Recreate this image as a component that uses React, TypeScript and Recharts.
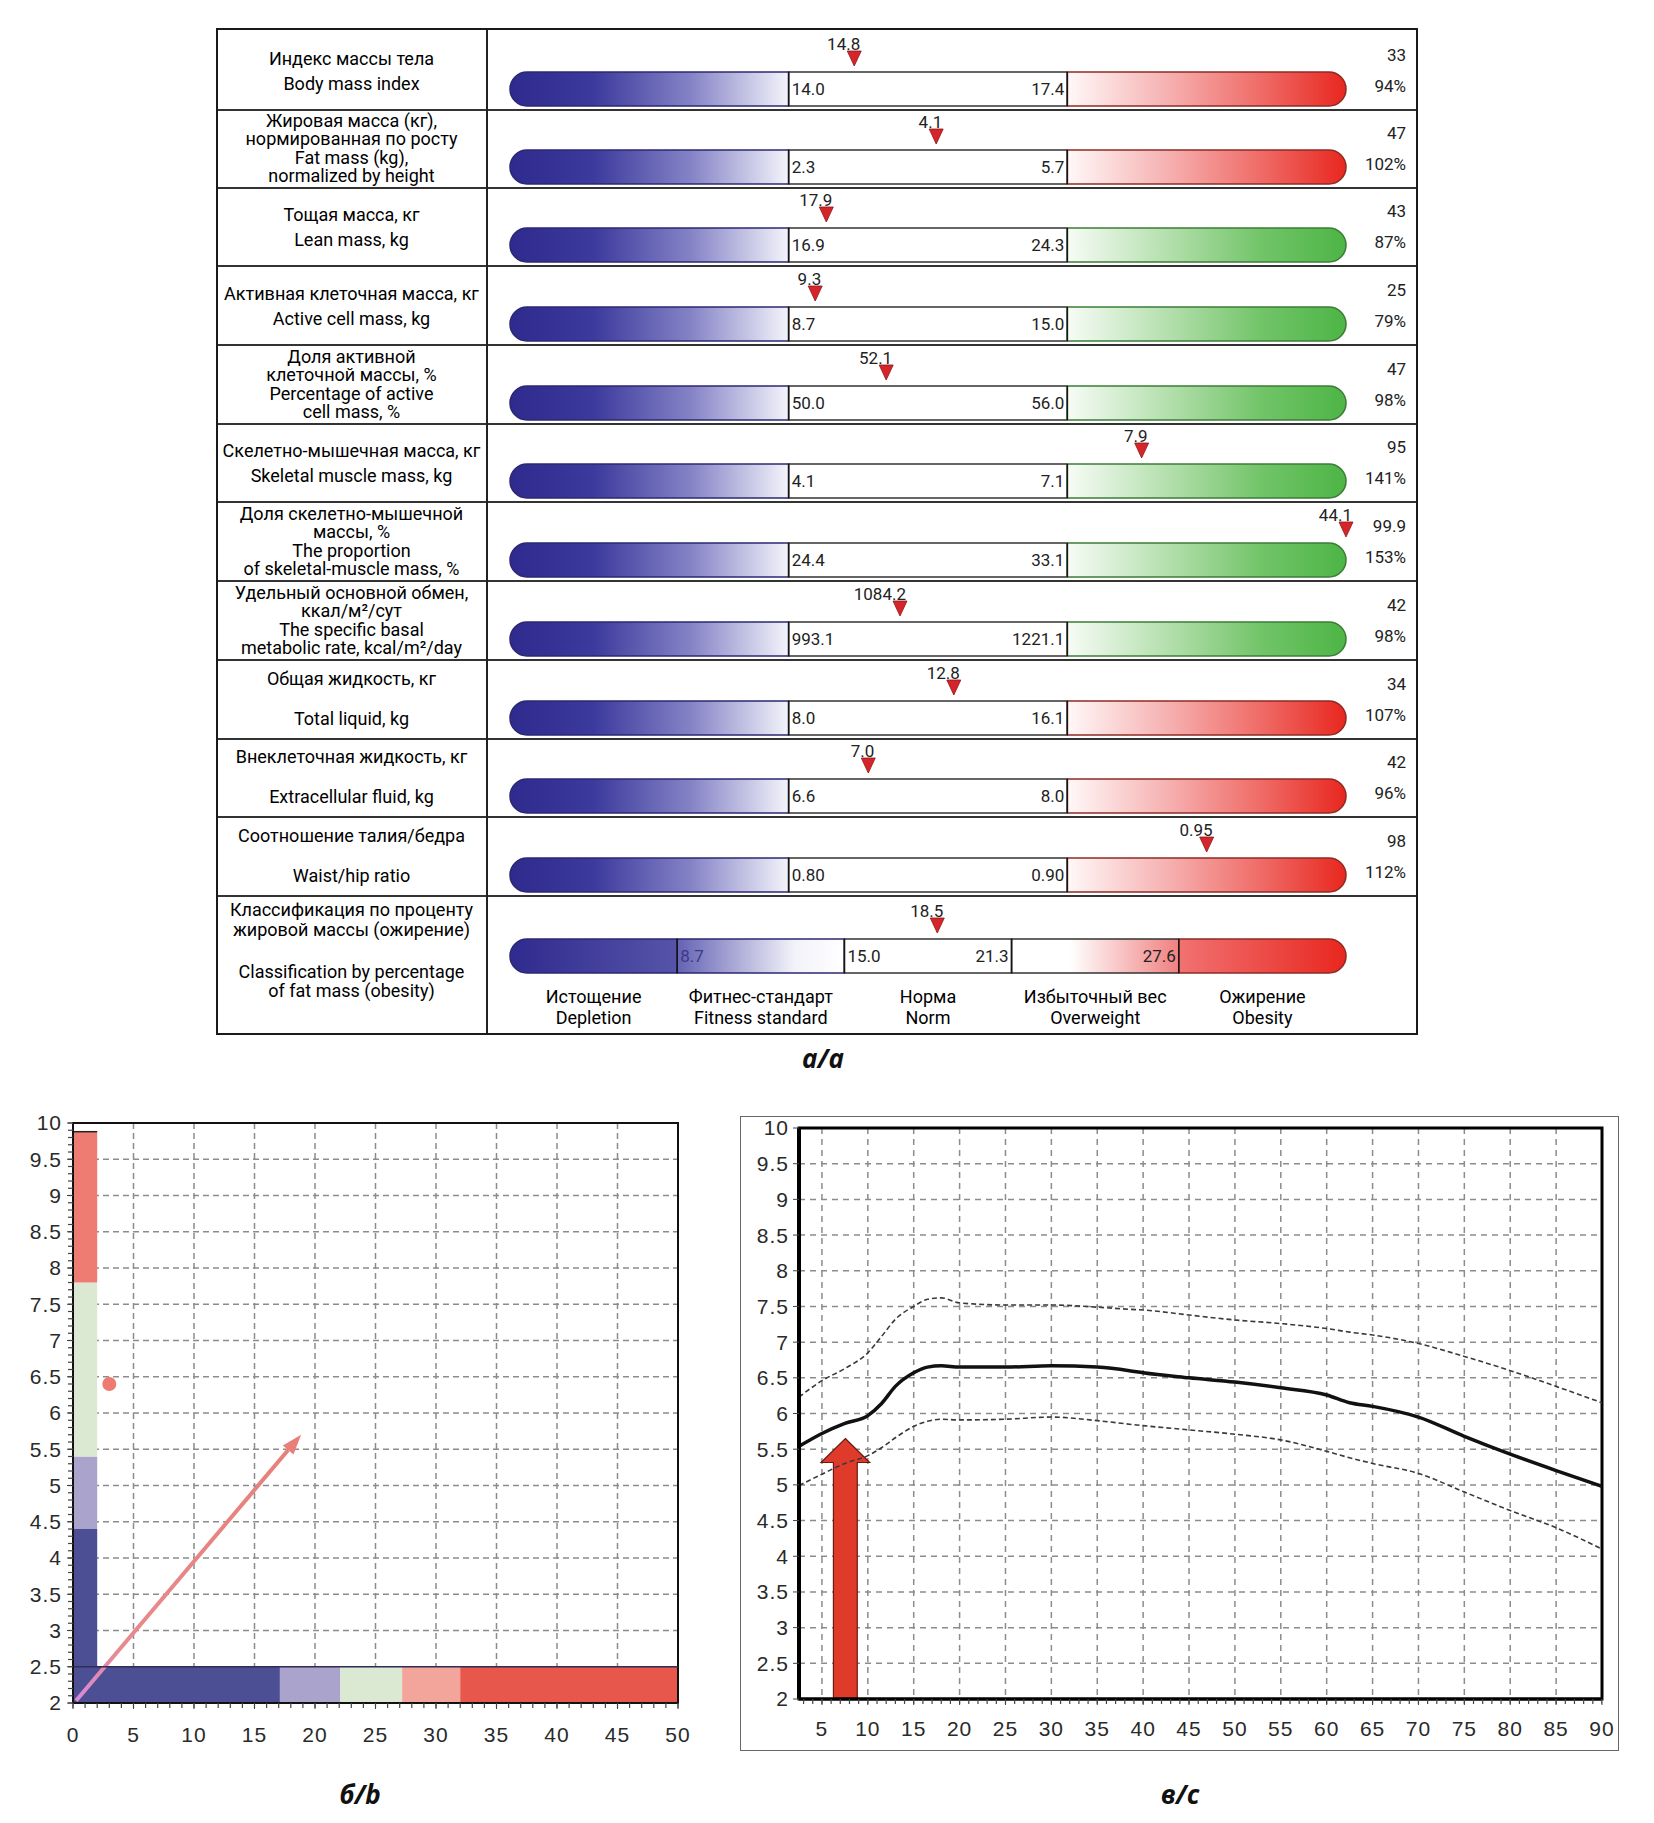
import React from 'react';
import {
  ComposedChart, Bar, Line, Scatter, XAxis, YAxis, CartesianGrid,
  ReferenceLine, ReferenceDot, ReferenceArea, Rectangle,
} from 'recharts';

// ---------- panel a: bioimpedance indicators ----------
const indicatorLines: string[][] = [
  ['Индекс массы тела', 'Body mass index'],
  ['Жировая масса (кг),', 'нормированная по росту', 'Fat mass (kg),', 'normalized by height'],
  ['Тощая масса, кг', 'Lean mass, kg'],
  ['Активная клеточная масса, кг', 'Active cell mass, kg'],
  ['Доля активной', 'клеточной массы, %', 'Percentage of active', 'cell mass, %'],
  ['Скелетно-мышечная масса, кг', 'Skeletal muscle mass, kg'],
  ['Доля скелетно-мышечной', 'массы, %', 'The proportion', 'of skeletal-muscle mass, %'],
  ['Удельный основной обмен,', 'ккал/м²/сут', 'The specific basal', 'metabolic rate, kcal/m²/day'],
  ['Общая жидкость, кг', 'Total liquid, kg'],
  ['Внеклеточная жидкость, кг', 'Extracellular fluid, kg'],
  ['Соотношение талия/бедра', 'Waist/hip ratio'],
];
const measured = [14.8, 4.1, 17.9, 9.3, 52.1, 7.9, 44.1, 1084.2, 12.8, 7.0, 0.95];
const normLow = [14.0, 2.3, 16.9, 8.7, 50.0, 4.1, 24.4, 993.1, 8.0, 6.6, 0.80];
const normHigh = [17.4, 5.7, 24.3, 15.0, 56.0, 7.1, 33.1, 1221.1, 16.1, 8.0, 0.90];
const valueDigits = [1, 1, 1, 1, 1, 1, 1, 1, 1, 1, 2];
const indexScore = ['33', '47', '43', '25', '47', '95', '99.9', '42', '34', '42', '98'];
const normPercent = ['94%', '102%', '87%', '79%', '98%', '141%', '153%', '98%', '107%', '96%', '112%'];
const upperZone = ['red', 'red', 'green', 'green', 'green', 'green', 'green', 'green', 'red', 'red', 'red'];

const fatClassLines = ['Классификация по проценту', 'жировой массы (ожирение)', 'Classification by percentage', 'of fat mass (obesity)'];
const fatPercent = 18.5;
const fatThresholds = [8.7, 15.0, 21.3, 27.6];
const fatZonesRu = ['Истощение', 'Фитнес-стандарт', 'Норма', 'Избыточный вес', 'Ожирение'];
const fatZonesEn = ['Depletion', 'Fitness standard', 'Norm', 'Overweight', 'Obesity'];

// ---------- panel b: composition map ----------
const mapYEdges = [2.5, 4.4, 5.4, 7.8, 9.88];
const mapXEdges = [0, 17.1, 22.1, 27.2, 32.0, 50];
const subjectPoint = [{ x: 3.0, y: 6.4 }];
const arrowStart = { x: 0.25, y: 2.03 };
const arrowEnd = { x: 18.85, y: 5.7 };
const bXTicks = [0, 5, 10, 15, 20, 25, 30, 35, 40, 45, 50];
const yTicks = [2, 2.5, 3, 3.5, 4, 4.5, 5, 5.5, 6, 6.5, 7, 7.5, 8, 8.5, 9, 9.5, 10];

// ---------- panel c: age norm curves ----------
const ages = [2.5, 5, 7.5, 10, 11.5, 13, 15, 16.5, 18, 20, 25, 30, 35, 38.5, 40, 45, 50, 55, 60, 62.5, 65, 70, 75, 80, 85, 90];
const normMedian = [5.54, 5.72, 5.86, 5.97, 6.14, 6.38, 6.57, 6.65, 6.67, 6.65, 6.65, 6.67, 6.65, 6.6, 6.57, 6.5, 6.44, 6.36, 6.26, 6.15, 6.1, 5.95, 5.68, 5.43, 5.2, 4.98];
const normUpper = [6.23, 6.46, 6.63, 6.85, 7.08, 7.32, 7.5, 7.6, 7.62, 7.55, 7.52, 7.52, 7.49, 7.46, 7.45, 7.38, 7.31, 7.26, 7.19, 7.14, 7.1, 6.98, 6.8, 6.6, 6.38, 6.15];
const normLower = [4.99, 5.15, 5.3, 5.41, 5.52, 5.66, 5.82, 5.89, 5.92, 5.91, 5.92, 5.95, 5.9, 5.85, 5.83, 5.77, 5.71, 5.63, 5.47, 5.38, 5.3, 5.16, 4.9, 4.64, 4.4, 4.1];
const subjectAge = 7.55;
const subjectValue = 5.65;
const cXTicks = [5, 10, 15, 20, 25, 30, 35, 40, 45, 50, 55, 60, 65, 70, 75, 80, 85, 90];

const growthTable = ages.map((age, i) => ({ age, median: normMedian[i], upper: normUpper[i], lower: normLower[i] }));

// ---------- layout ----------
const ROW_EDGES = [28, 110, 188, 266, 345, 424, 502, 581, 660, 739, 817, 896, 1035];
const TABLE_LEFT = 216;
const TABLE_RIGHT = 1418;
const LABEL_RIGHT = 487;
const BAR_LEFT = 510;
const BAR_RIGHT = 1346;
const BAR_H = 34;
const LABEL_OFFSETS: Record<number, number[]> = { 2: [-51, -26], 4: [-67, -49, -30, -12] };
const SPLIT_ROWS = [8, 9, 10];
const FAT_LABEL_OFFSETS = [-125, -105, -63, -44];

const TEXT_FONT = 'Roboto, "Noto Sans", sans-serif';
const NUM_FONT = 'Roboto, "Liberation Sans", sans-serif';
const AXIS_FONT = '"Liberation Sans", Arial, sans-serif';
const STROKE = { blue: '#2b2870', white: '#333333', red: '#8d2b25', green: '#3d7c37' };

// positions of the small unlabelled tick marks along the axes
const minorTicks = (from: number, to: number, step: number) => {
  const out: number[] = [];
  for (let v = from; v <= to + 1e-9; v += step) out.push(Math.round(v * 100) / 100);
  return out;
};

const zonePosition = (v: number, t0: number, t1: number, zones: number) =>
  Math.min(1, Math.max(0, (1 + (v - t0) / (t1 - t0)) / zones));

type Seg = { fill: string; stroke: string; left?: string; right?: string; textColor?: string };

const segShape = (seg: Seg) => (p: any) => {
  const { x, y, width, height } = p;
  const mid = y + height / 2;
  const txt = { fontSize: 17, fontFamily: NUM_FONT, fill: seg.textColor || '#222' };
  return (
    <g>
      <Rectangle x={x} y={y} width={width} height={height} radius={p.radius} fill={seg.fill} stroke={seg.stroke} strokeWidth={1.5} />
      {seg.left && <text x={x + 3} y={mid} dy="0.38em" {...txt}>{seg.left}</text>}
      {seg.right && <text x={x + width - 3} y={mid} dy="0.38em" textAnchor="end" {...txt}>{seg.right}</text>}
    </g>
  );
};

const markerShape = (label: string) => (p: any) => {
  const { cx, cy } = p;
  const tip = cy - BAR_H / 2 - 6;
  return (
    <g>
      <text x={cx + 6} y={tip - 16} textAnchor="end" fontSize={17} fontFamily={NUM_FONT} fill="#222">{label}</text>
      <polygon points={`${cx - 7},${tip - 15} ${cx + 7},${tip - 15} ${cx},${tip}`} fill="#d6252a" stroke="#8e1616" strokeWidth={0.8} />
    </g>
  );
};

const legendTick = (p: any) => {
  const k = Math.round(p.payload.value * 5 - 0.5);
  const st = { fontSize: 18, fontFamily: TEXT_FONT, fill: '#000', textAnchor: 'middle' as const };
  return (
    <g>
      <text x={p.x} y={p.y + 30} {...st}>{fatZonesRu[k]}</text>
      <text x={p.x} y={p.y + 51} {...st}>{fatZonesEn[k]}</text>
    </g>
  );
};

function ZoneBar({ top, height, segs, pos, valueText, legend }: {
  top: number; height: number; segs: Seg[]; pos: number; valueText: string; legend?: boolean;
}) {
  const n = segs.length;
  const row: Record<string, number | string> = { name: 'v' };
  segs.forEach((_, k) => { row[`s${k}`] = 1 / n; });
  const barTop = legend ? 43 : height - BAR_H - 4;
  const bottom = height - barTop - BAR_H;
  return (
    <div style={{ position: 'absolute', left: LABEL_RIGHT, top }}>
      <ComposedChart
        width={TABLE_RIGHT - LABEL_RIGHT}
        height={height}
        layout="vertical"
        data={[row]}
        barCategoryGap={0}
        barGap={0}
        margin={{ top: barTop, bottom: legend ? 2 : bottom, left: BAR_LEFT - LABEL_RIGHT, right: TABLE_RIGHT - BAR_RIGHT }}
      >
        <XAxis
          type="number"
          domain={[0, 1]}
          hide={!legend}
          ticks={[0.1, 0.3, 0.5, 0.7, 0.9]}
          interval={0}
          axisLine={false}
          tickLine={false}
          tickSize={0}
          tickMargin={0}
          height={legend ? bottom - 2 : 0}
          tick={legendTick}
        />
        <YAxis type="category" dataKey="name" hide />
        {segs.map((seg, k) => (
          <Bar
            key={k}
            dataKey={`s${k}`}
            stackId="z"
            fill={seg.fill}
            radius={k === 0 ? [17, 0, 0, 17] : k === n - 1 ? [0, 17, 17, 0] : 0}
            shape={segShape(seg)}
            isAnimationActive={false}
          />
        ))}
        {segs.slice(1).map((_, k) => (
          <ReferenceLine key={`d${k}`} x={(k + 1) / n} stroke="#151515" strokeWidth={1.5} />
        ))}
        <ReferenceDot x={pos} y="v" r={0} ifOverflow="visible" shape={markerShape(valueText)} />
      </ComposedChart>
    </div>
  );
}

function LabelLine({ y, text }: { y: number; text: string }) {
  return (
    <div style={{
      position: 'absolute', left: TABLE_LEFT, width: LABEL_RIGHT - TABLE_LEFT, top: y - 11, height: 22,
      lineHeight: '22px', textAlign: 'center', whiteSpace: 'nowrap', fontSize: 18, fontFamily: TEXT_FONT, color: '#000',
    }}>{text}</div>
  );
}

function IndicatorTable() {
  const tableH = ROW_EDGES[ROW_EDGES.length - 1] - ROW_EDGES[0];
  const last = ROW_EDGES.length - 2;
  const fatSegs: Seg[] = [
    { fill: 'url(#gFat1)', stroke: STROKE.blue },
    { fill: 'url(#gFat2)', stroke: STROKE.blue, left: fatThresholds[0].toFixed(1), textColor: '#3b3a8a' },
    { fill: '#ffffff', stroke: STROKE.white, left: fatThresholds[1].toFixed(1), right: fatThresholds[2].toFixed(1) },
    { fill: 'url(#gFat4)', stroke: STROKE.white, right: fatThresholds[3].toFixed(1) },
    { fill: 'url(#gFat5)', stroke: STROKE.red },
  ];
  return (
    <>
      {measured.map((v, i) => {
        const top = ROW_EDGES[i];
        const h = ROW_EDGES[i + 1] - top;
        const d = valueDigits[i];
        const segs: Seg[] = [
          { fill: 'url(#gBlue)', stroke: STROKE.blue },
          { fill: '#ffffff', stroke: STROKE.white, left: normLow[i].toFixed(d), right: normHigh[i].toFixed(d) },
          upperZone[i] === 'red' ? { fill: 'url(#gRed)', stroke: STROKE.red } : { fill: 'url(#gGreen)', stroke: STROKE.green },
        ];
        return (
          <ZoneBar key={i} top={top} height={h} segs={segs} pos={zonePosition(v, normLow[i], normHigh[i], 3)} valueText={v.toFixed(d)} />
        );
      })}
      <ZoneBar
        top={ROW_EDGES[last]}
        height={ROW_EDGES[last + 1] - ROW_EDGES[last]}
        segs={fatSegs}
        pos={zonePosition(fatPercent, fatThresholds[0], fatThresholds[1], 5)}
        valueText={fatPercent.toFixed(1)}
        legend
      />
      {indicatorLines.map((lines, i) => {
        const bottom = ROW_EDGES[i + 1];
        const offs = SPLIT_ROWS.includes(i) ? [-60, -20] : LABEL_OFFSETS[lines.length];
        return lines.map((t, j) => <LabelLine key={`${i}-${j}`} y={bottom + offs[j]} text={t} />);
      })}
      {fatClassLines.map((t, j) => <LabelLine key={`f${j}`} y={ROW_EDGES[last + 1] + FAT_LABEL_OFFSETS[j]} text={t} />)}
      {indexScore.map((s, i) => (
        <React.Fragment key={`s${i}`}>
          {[s, normPercent[i]].map((t, j) => (
            <div key={j} style={{
              position: 'absolute', left: 1300, width: 106, top: ROW_EDGES[i + 1] - (j === 0 ? 55 : 24) - 10, height: 20,
              lineHeight: '20px', textAlign: 'right', fontSize: 17, fontFamily: NUM_FONT, color: '#222',
            }}>{t}</div>
          ))}
        </React.Fragment>
      ))}
      {ROW_EDGES.slice(1, -1).map((y) => (
        <div key={`h${y}`} style={{ position: 'absolute', left: TABLE_LEFT, width: TABLE_RIGHT - TABLE_LEFT, top: y - 1, height: 2, background: '#333' }} />
      ))}
      <div style={{ position: 'absolute', left: LABEL_RIGHT - 1, top: ROW_EDGES[0], width: 2, height: tableH, background: '#222' }} />
      <div style={{
        position: 'absolute', left: TABLE_LEFT, top: ROW_EDGES[0], width: TABLE_RIGHT - TABLE_LEFT, height: tableH,
        border: '2.5px solid #1a1a1a', boxSizing: 'border-box',
      }} />
    </>
  );
}

function GradientDefs() {
  const grads: Record<string, [number, string][]> = {
    gBlue: [[0, '#2f2a8e'], [0.3, '#3c3a9c'], [0.65, '#8583c6'], [1, '#f4f4fb']],
    gRed: [[0, '#fff8f8'], [0.35, '#f6b3b3'], [0.7, '#ef6a66'], [1, '#e8271f']],
    gGreen: [[0, '#f7fcf6'], [0.35, '#b6e0af'], [0.7, '#71c468'], [1, '#4db545']],
    gFat1: [[0, '#2f2a8e'], [1, '#5654a9']],
    gFat2: [[0, '#6462b3'], [0.7, '#f2f2fa'], [1, '#ffffff']],
    gFat4: [[0, '#ffffff'], [0.35, '#ffffff'], [1, '#f08080']],
    gFat5: [[0, '#f17272'], [1, '#e8271f']],
  };
  return (
    <svg width={0} height={0} style={{ position: 'absolute' }}>
      <defs>
        {Object.entries(grads).map(([id, stops]) => (
          <linearGradient key={id} id={id} x1="0" y1="0" x2="1" y2="0">
            {stops.map(([o, c]) => <stop key={o} offset={o} stopColor={c} />)}
          </linearGradient>
        ))}
      </defs>
    </svg>
  );
}

// ---------- shared axis bits ----------
const AXIS_TICK = { fontSize: 21, fill: '#2a2a2a', fontFamily: AXIS_FONT, letterSpacing: 1 };
const tickDown = (p: any) => <line x1={p.cx} x2={p.cx} y1={p.cy} y2={p.cy + 5} stroke="#444" strokeWidth={1.2} />;
const tickLeft = (p: any) => <line x1={p.cx - 5} x2={p.cx} y1={p.cy} y2={p.cy} stroke="#444" strokeWidth={1.2} />;

// ---------- panel b ----------
const MAP_Y_COLORS = ['#4d4f94', '#aaa3cc', '#dbe9d3', '#ee7c72'];
const MAP_X_COLORS = ['#4d4f94', '#aaa3cc', '#dbe9d3', '#f3a59c', '#e8574b'];
const bMinorX = minorTicks(0, 50, 1).map((x) => ({ x, y: 2 }));
const bMinorY = minorTicks(2, 10, 0.1).map((y) => ({ x: 0, y }));

const diagonalArrow = (p: any) => {
  const x1 = p.x;
  const y1 = p.y + p.height;
  const x2 = p.x + p.width;
  const y2 = p.y;
  const ang = Math.atan2(y2 - y1, x2 - x1);
  const L = 20;
  const W = 7;
  const bx = x2 - L * Math.cos(ang);
  const by = y2 - L * Math.sin(ang);
  const nx = -Math.sin(ang);
  const ny = Math.cos(ang);
  return (
    <g>
      <defs>
        <linearGradient id="arrowB" gradientUnits="userSpaceOnUse" x1={x1} y1={y1} x2={x2} y2={y2}>
          <stop offset="0" stopColor="#d98ad6" />
          <stop offset="0.2" stopColor="#e78a8e" />
          <stop offset="1" stopColor="#e87f78" />
        </linearGradient>
      </defs>
      <line x1={x1} y1={y1} x2={bx} y2={by} stroke="url(#arrowB)" strokeWidth={4} />
      <polygon points={`${x2},${y2} ${bx + nx * W},${by + ny * W} ${bx - nx * W},${by - ny * W}`} fill="#e87f78" />
    </g>
  );
};

function CompositionMap() {
  return (
    <div style={{ position: 'absolute', left: 0, top: 1100 }}>
      <ComposedChart width={700} height={680} margin={{ top: 23, right: 22, left: 0, bottom: 37 }}>
        <CartesianGrid stroke="#8c8c8c" strokeDasharray="6 4" strokeWidth={1.5} />
        <XAxis type="number" dataKey="x" domain={[0, 50]} ticks={bXTicks} interval={0} height={40} tickSize={6}
          tickMargin={18} axisLine={{ stroke: '#111', strokeWidth: 2 }} tickLine={{ stroke: '#444' }} tick={AXIS_TICK} />
        <YAxis type="number" dataKey="y" domain={[2, 10]} ticks={yTicks} interval={0} width={73} tickSize={6}
          tickMargin={5} axisLine={{ stroke: '#111', strokeWidth: 2 }} tickLine={{ stroke: '#444' }} tick={AXIS_TICK} />
        {MAP_Y_COLORS.map((c, k) => (
          <ReferenceArea key={`v${k}`} x1={0} x2={2} y1={mapYEdges[k]} y2={mapYEdges[k + 1]} fill={c} fillOpacity={1} stroke="none" />
        ))}
        <ReferenceLine segment={[{ x: 0, y: mapYEdges[4] }, { x: 2, y: mapYEdges[4] }]} stroke="#222" strokeWidth={1.5} />
        {MAP_X_COLORS.map((c, k) => (
          <ReferenceArea key={`h${k}`} x1={mapXEdges[k]} x2={mapXEdges[k + 1]} y1={2} y2={2.5} fill={c} fillOpacity={1} stroke="none" />
        ))}
        <ReferenceLine y={2.5} stroke="#2d2d55" strokeWidth={1.5} />
        <ReferenceArea x1={arrowStart.x} x2={arrowEnd.x} y1={arrowStart.y} y2={arrowEnd.y} shape={diagonalArrow} />
        <Scatter data={subjectPoint} fill="#ee7a70" isAnimationActive={false}
          shape={(p: any) => <circle cx={p.cx} cy={p.cy} r={7} fill="#ee7a70" />} />
        <Scatter data={bMinorX} isAnimationActive={false} shape={tickDown} />
        <Scatter data={bMinorY} isAnimationActive={false} shape={tickLeft} />
        <ReferenceArea x1={0} x2={50} y1={2} y2={10} fill="none" fillOpacity={0} stroke="#111" strokeWidth={2} />
      </ComposedChart>
    </div>
  );
}

// ---------- panel c ----------
const cMinorX = minorTicks(3, 90, 1).map((age) => ({ age, val: 2 }));
const cMinorY = minorTicks(2, 10, 0.1).map((val) => ({ age: 2.5, val }));

const upArrow = (p: any) => {
  const { x, y, width, height } = p;
  const cx = x + width / 2;
  const half = width * 0.245;
  const head = 24;
  const pts = [
    [cx, y], [x + width, y + head], [cx + half, y + head], [cx + half, y + height],
    [cx - half, y + height], [cx - half, y + head], [x, y + head],
  ].map((q) => q.join(',')).join(' ');
  return <polygon points={pts} fill="#e03a2a" stroke="#6b1a12" strokeWidth={1.2} />;
};

function GrowthChart() {
  return (
    <div style={{ position: 'absolute', left: 740, top: 1116, width: 879, height: 635, border: '1.5px solid #666', boxSizing: 'border-box' }}>
      <div style={{ position: 'absolute', left: -1.5, top: -1.5 }}>
        <ComposedChart width={879} height={635} data={growthTable} margin={{ top: 12, right: 17, left: 0, bottom: 7 }}>
          <CartesianGrid stroke="#8c8c8c" strokeDasharray="6 5" strokeWidth={1.5} />
          <XAxis type="number" dataKey="age" domain={[2.5, 90]} allowDataOverflow ticks={cXTicks} interval={0} height={45}
            tickSize={6} tickMargin={16} axisLine={{ stroke: '#000', strokeWidth: 3 }} tickLine={{ stroke: '#444' }} tick={AXIS_TICK} />
          <YAxis type="number" domain={[2, 10]} ticks={yTicks} interval={0} width={59} tickSize={6} tickMargin={4}
            axisLine={{ stroke: '#000', strokeWidth: 4 }} tickLine={{ stroke: '#444' }} tick={AXIS_TICK} />
          <Line type="monotone" dataKey="upper" stroke="#3a3a3a" strokeWidth={1.6} strokeDasharray="5 3" dot={false} isAnimationActive={false} />
          <Line type="monotone" dataKey="lower" stroke="#3a3a3a" strokeWidth={1.6} strokeDasharray="5 3" dot={false} isAnimationActive={false} />
          <Line type="monotone" dataKey="median" stroke="#111" strokeWidth={3.5} dot={false} isAnimationActive={false} />
          <Scatter data={cMinorX} dataKey="val" isAnimationActive={false} shape={tickDown} />
          <Scatter data={cMinorY} dataKey="val" isAnimationActive={false} shape={tickLeft} />
          <ReferenceArea x1={subjectAge - 2.65} x2={subjectAge + 2.65} y1={2} y2={subjectValue} shape={upArrow} />
          <ReferenceArea x1={2.5} x2={90} y1={2} y2={10} fill="none" fillOpacity={0} stroke="#000" strokeWidth={3} />
        </ComposedChart>
      </div>
    </div>
  );
}

function Caption({ x, y, text }: { x: number; y: number; text: string }) {
  return (
    <div style={{
      position: 'absolute', left: x - 60, width: 120, top: y - 17, height: 34, lineHeight: '34px', textAlign: 'center',
      fontSize: 26, fontWeight: 700, fontStyle: 'italic', fontFamily: '"Open Sans", sans-serif', color: '#111',
    }}>{text}</div>
  );
}

export default function App() {
  return (
    <div style={{ position: 'absolute', left: 0, top: 0, width: 1654, height: 1823, background: '#fff', overflow: 'hidden' }}>
      <GradientDefs />
      <IndicatorTable />
      <Caption x={823} y={1058} text="а/a" />
      <CompositionMap />
      <GrowthChart />
      <Caption x={360} y={1794} text="б/b" />
      <Caption x={1180} y={1794} text="в/c" />
    </div>
  );
}
